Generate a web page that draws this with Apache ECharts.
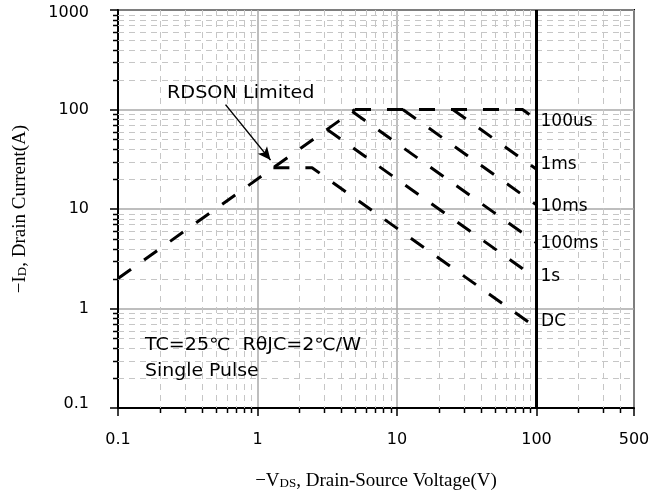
<!DOCTYPE html>
<html>
<head>
<meta charset="utf-8">
<script src="https://cdn.jsdelivr.net/npm/echarts@6/dist/echarts.min.js"></script>
<style>
  html, body { margin: 0; padding: 0; background: #fff; }
  #chart { width: 664px; height: 496px; }
</style>
</head>
<body>
<div id="chart"></div>
<script>
// Safe operating area: each curve is a list of [VDS (V), ID (A)] corner points.
const rdsonLimit = [[0.1, 2], [5, 100]];
const curve100us = [[5, 100], [79.4, 100], [100, 79.4]];
const curve1ms   = [[25.1, 100], [100, 25.1]];
const curve10ms  = [[11, 100], [100, 11]];
const curve100ms = [[4.78, 95.6], [100, 4.57]];
const curve1s    = [[3.16, 63], [100, 2.0]];
const curveDC    = [[1.3, 26], [2.46, 26], [87, 0.735]];

const pulseNames = ['100us', '1ms', '10ms', '100ms', '1s', 'DC'];
const xTicks = [0.1, 1, 10, 100, 500];
const yTicks = [0.1, 1, 10, 100, 1000];
const vdsLimit = 100;

// Arrow from the "RDSON Limited" note to the limit line, in [V, A].
const arrowFrom = [0.59, 112];
const arrowTo   = [1.24, 31];

const SANS = 'DejaVu Sans';
const SERIF = 'Liberation Serif';

// Minor (2..9) log-decade positions for the light dashed grid.
function minorValues(lo, hi) {
  const out = [];
  for (let d = lo; d < hi; d *= 10) {
    for (let k = 2; k <= 9; k++) {
      const v = +(k * d).toPrecision(6);
      if (v < hi) out.push(v);
    }
  }
  return out;
}
const xMinor = minorValues(xTicks[0], xTicks[xTicks.length - 1]);
const yMinor = minorValues(yTicks[0], yTicks[yTicks.length - 1]);

const chart = echarts.init(document.getElementById('chart'), null, { renderer: 'canvas' });

const dashStyle = { color: '#000', width: 3, type: [16, 16], cap: 'butt' };
const labelStyle = { color: '#000', fontFamily: SANS, fontSize: 17 };

function pulseSeries(name, data, offset) {
  return {
    type: 'line', name: name, data: data, z: 5,
    showSymbol: false, symbol: 'none', silent: true,
    lineStyle: dashStyle,
    endLabel: Object.assign({ show: true, formatter: name, distance: 4, offset: offset }, labelStyle)
  };
}

function tickText(v) { return String(+v.toPrecision(6)); }

const option = {
  animation: false,
  backgroundColor: '#fff',
  grid: {
    left: 118, top: 10, width: 516, height: 405,
    show: true, borderColor: '#000', borderWidth: 2, backgroundColor: 'transparent'
  },
  xAxis: {
    type: 'log', logBase: 10, min: xTicks[0], max: xTicks[xTicks.length - 1],
    axisLine: { lineStyle: { color: '#000', width: 2 } },
    axisTick: { length: 8, lineStyle: { color: '#000', width: 1.5 } },
    axisLabel: { color: '#000', fontFamily: SANS, fontSize: 16, margin: 24, formatter: tickText },
    splitLine: { show: true, lineStyle: { color: '#a8a8a8', width: 1.5 } },
    name: '{a|−V}{s|DS}{a|, Drain-Source Voltage(V)}',
    nameLocation: 'middle', nameGap: 64,
    nameTextStyle: { rich: {
      a: { fontFamily: SERIF, fontSize: 19, color: '#000', verticalAlign: 'bottom' },
      s: { fontFamily: SERIF, fontSize: 13, color: '#000', verticalAlign: 'bottom', padding: [0, 0, 1, 0] }
    } }
  },
  yAxis: {
    type: 'log', logBase: 10, min: yTicks[0], max: yTicks[yTicks.length - 1],
    axisLine: { lineStyle: { color: '#000', width: 2 } },
    axisTick: { length: 8, lineStyle: { color: '#000', width: 1.5 } },
    axisLabel: {
      color: '#000', fontFamily: SANS, fontSize: 16, margin: 29,
      verticalAlignMinLabel: 'middle', verticalAlignMaxLabel: 'middle',
      // end labels are nudged inward so they stay clear of the corners
      formatter: function (v) {
        const t = tickText(v);
        if (v <= yTicks[0]) return '{lo|' + t + '}';
        if (v >= yTicks[yTicks.length - 1]) return '{hi|' + t + '}';
        return t;
      },
      rich: {
        lo: { fontFamily: SANS, fontSize: 16, color: '#000', padding: [0, 0, 8, 0] },
        hi: { fontFamily: SANS, fontSize: 16, color: '#000', padding: [6, 0, 0, 0] }
      }
    },
    splitLine: { show: true, lineStyle: { color: '#a8a8a8', width: 1.5 } },
    name: '{a|−I}{s|D}{a|, Drain Current(A)}',
    nameLocation: 'middle', nameGap: 88, nameRotate: 90,
    nameTextStyle: { rich: {
      a: { fontFamily: SERIF, fontSize: 19, color: '#000', verticalAlign: 'bottom' },
      s: { fontFamily: SERIF, fontSize: 13, color: '#000', verticalAlign: 'bottom', padding: [0, 0, 1, 0] }
    } }
  },
  series: [
    // light dashed minor grid + outward minor ticks on the voltage axis
    {
      type: 'custom', z: 1, silent: true, clip: false,
      data: xMinor.map(v => [v, 1]),
      renderItem: function (params, api) {
        const cs = params.coordSys;
        const x = Math.round(api.coord([api.value(0), 1])[0]) + 0.5;
        const b = cs.y + cs.height;
        return { type: 'group', children: [
          { type: 'line', shape: { x1: x, y1: cs.y, x2: x, y2: b },
            style: { stroke: '#c6c6c6', lineWidth: 1, lineDash: [6, 5] } },
          { type: 'line', shape: { x1: x, y1: b, x2: x, y2: b + 5 },
            style: { stroke: '#000', lineWidth: 1.5 } }
        ] };
      }
    },
    // same for the current axis
    {
      type: 'custom', z: 1, silent: true, clip: false,
      data: yMinor.map(v => [1, v]),
      renderItem: function (params, api) {
        const cs = params.coordSys;
        const y = Math.round(api.coord([1, api.value(1)])[1]) + 0.5;
        const l = cs.x;
        return { type: 'group', children: [
          { type: 'line', shape: { x1: l, y1: y, x2: l + cs.width, y2: y },
            style: { stroke: '#c6c6c6', lineWidth: 1, lineDash: [6, 5] } },
          { type: 'line', shape: { x1: l - 5, y1: y, x2: l, y2: y },
            style: { stroke: '#000', lineWidth: 1.5 } }
        ] };
      }
    },
    {
      type: 'line', name: 'RDSON', data: rdsonLimit, z: 5,
      showSymbol: false, symbol: 'none', silent: true,
      lineStyle: dashStyle,
      markLine: {
        silent: true, symbol: ['none', 'arrow'], symbolSize: [9, 13],
        label: { show: false },
        lineStyle: { color: '#000', width: 1.5, type: 'solid' },
        data: [[{ coord: arrowFrom }, { coord: arrowTo }]]
      }
    },
    pulseSeries(pulseNames[0], curve100us, [0, 2]),
    pulseSeries(pulseNames[1], curve1ms, [0, -5]),
    pulseSeries(pulseNames[2], curve10ms, [0, 2]),
    pulseSeries(pulseNames[3], curve100ms, [0, 1]),
    pulseSeries(pulseNames[4], curve1s, [0, -2]),
    Object.assign(pulseSeries(pulseNames[5], curveDC, [9, 0]), {
      markLine: {
        silent: true, symbol: ['none', 'none'],
        label: { show: false },
        lineStyle: { color: '#000', width: 3, type: 'solid' },
        data: [{ xAxis: vdsLimit }]
      }
    })
  ],
  graphic: [
    { type: 'text', left: 167, top: 85, z: 10, scaleX: 1.13,
      style: { text: 'RDSON Limited', fill: '#000', font: '17px "DejaVu Sans"' } },
    { type: 'text', left: 145, top: 337, z: 10, scaleX: 1.12,
      style: { text: 'TC=25℃  RθJC=2℃/W', fill: '#000', font: '17px "DejaVu Sans"' } },
    { type: 'text', left: 145, top: 363, z: 10, scaleX: 1.11,
      style: { text: 'Single Pulse', fill: '#000', font: '17px "DejaVu Sans"' } }
  ]
};

chart.setOption(option);
</script>
</body>
</html>
